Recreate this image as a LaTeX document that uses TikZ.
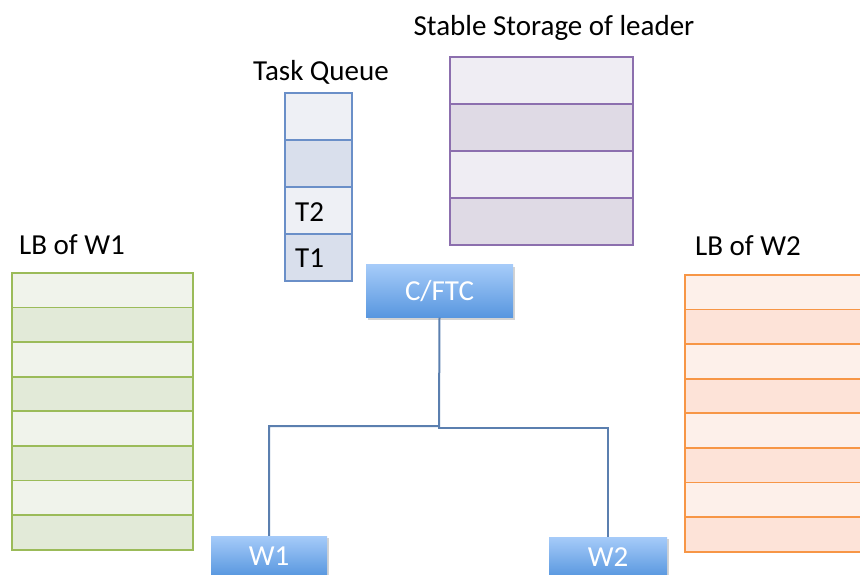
\documentclass[tikz,border=0pt]{standalone}
\usepackage{fontspec}
\setmainfont{Carlito}
\usetikzlibrary{shadows}
\definecolor{qb}{HTML}{6A8FC8}\definecolor{qa}{HTML}{EEF0F5}\definecolor{qc}{HTML}{D9DFEC}
\definecolor{pb}{HTML}{8C6FAE}\definecolor{pa}{HTML}{EFEDF3}\definecolor{pc}{HTML}{DFDAE5}
\definecolor{gb}{HTML}{9BBB59}\definecolor{ga}{HTML}{F0F3EB}\definecolor{gc}{HTML}{E2EAD8}
\definecolor{ob}{HTML}{F79646}\definecolor{oa}{HTML}{FDF0EA}\definecolor{oc}{HTML}{FDE3D8}
\definecolor{btop}{HTML}{A6CBF9}\definecolor{bbot}{HTML}{5897DF}
\definecolor{conn}{HTML}{5B7FAF}
\tikzset{
  cell/.style={draw, line width=1.8pt, minimum width=#1, inner sep=0pt, anchor=north west},
  lbl/.style={font=\fontsize{29}{34}\selectfont, inner sep=0pt},
  btn/.style={top color=btop, bottom color=bbot, draw=none, text=white,
    font=\fontsize{29}{34}\selectfont, inner sep=0pt,
    drop shadow={opacity=0.35, shadow xshift=1.5pt, shadow yshift=-2pt}},
  wire/.style={draw=conn, line width=2pt}
}
\begin{document}
\begin{tikzpicture}[x=1pt,y=-1pt]
\useasboundingbox (0,0) rectangle (860,574);
% Task queue
\node[lbl] (tql) at (321,72) {Task Queue};
\foreach \i/\c in {1/qa,2/qc,3/qa,4/qc}{
  \node[cell=67pt, minimum height=47pt, draw=qb, fill=\c] (q\i) at (284,{92+(\i-1)*47}) {};
}
\node[lbl, anchor=west] (t2) at (295,212) {T2};
\node[lbl, anchor=west] (t1) at (295,258) {T1};
% Stable storage
\node[lbl] (ssl) at (554,28) {Stable Storage of leader};
\foreach \i/\c in {1/pa,2/pc,3/pa,4/pc}{
  \node[cell=183pt, minimum height=47pt, draw=pb, fill=\c] (s\i) at (449,{56+(\i-1)*47}) {};
}
% LB of W1
\node[lbl, anchor=west] (lb1) at (19,245) {LB of W1};
\foreach \i/\c in {1/ga,2/gc,3/ga,4/gc,5/ga,6/gc,7/ga,8/gc}{
  \node[cell=181pt, minimum height=34.6pt, draw=gb, fill=\c] (g\i) at (11,{272+(\i-1)*34.6}) {};
}
% LB of W2
\node[lbl, anchor=west] (lb2) at (695,246) {LB of W2};
\foreach \i/\c in {1/oa,2/oc,3/oa,4/oc,5/oa,6/oc,7/oa,8/oc}{
  \node[cell=190pt, minimum height=34.6pt, draw=ob, fill=\c] (o\i) at (684,{274+(\i-1)*34.6}) {};
}
% buttons
\node[btn, minimum width=147pt, minimum height=53pt] (cftc) at (439.5,291) {C/FTC};
\node[btn, minimum width=116pt, minimum height=40pt] (w1) at (269,556) {W1};
\node[btn, minimum width=118pt, minimum height=40pt] (w2) at (608,557) {W2};
% connectors
\draw[wire] (cftc.south) -- (439,426) -| (w1.north);
\draw[wire] (439,426) |- (608,428) -- (w2.north);
\end{tikzpicture}
\end{document}
